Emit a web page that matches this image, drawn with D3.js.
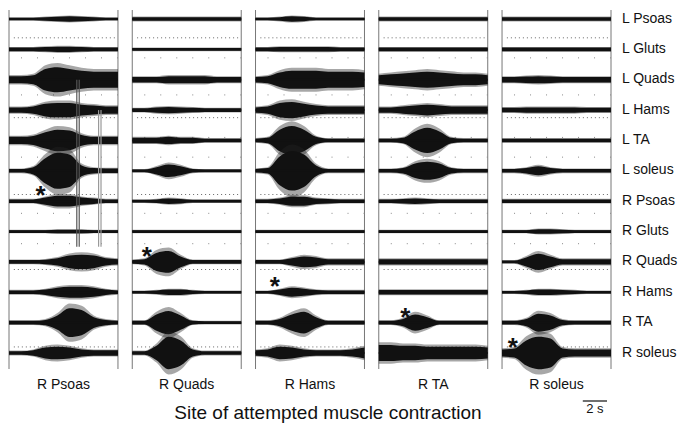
<!DOCTYPE html>
<html>
<head>
<meta charset="utf-8">
<script src="https://cdn.jsdelivr.net/npm/d3@7"></script>
<style>
  body { margin: 0; background: #fff; }
  text { font-family: "Liberation Sans", Arial, sans-serif; fill: #111; }
</style>
</head>
<body>
<div id="chart"></div>
<script>
// muscles recorded (rows, top to bottom)
const muscles = ['L Psoas', 'L Gluts', 'L Quads', 'L Hams', 'L TA', 'L soleus',
  'R Psoas', 'R Gluts', 'R Quads', 'R Hams', 'R TA', 'R soleus'];

// attempted contraction site (columns)
const sites = ['R Psoas', 'R Quads', 'R Hams', 'R TA', 'R soleus'];

// sample times of the EMG envelope (s)
const times = [0, 1, 2, 3, 4, 5, 6, 7, 8, 9];

// EMG envelope amplitude (arbitrary units), one row per muscle
const psoasTrial = [
  [1.5, 1.5, 1.5, 2, 2.5, 3, 2.5, 2, 1.5, 1.5],
  [2, 2, 2, 2.5, 3, 3, 2.5, 2, 2, 2],
  [4, 4, 5, 12, 14, 12, 10, 9, 9, 9],
  [3, 3, 4, 7, 8, 8, 6, 5, 4, 4],
  [4, 4, 5, 9, 12, 11, 6, 4, 4, 4],
  [2, 2, 4, 14, 20, 18, 6, 3, 2.5, 2.5],
  [2, 2, 2, 4, 6, 6, 4, 3, 2, 2],
  [1.5, 1.5, 1.5, 1.5, 2, 2, 2, 1.5, 1.5, 1.5],
  [2, 2, 2, 2.5, 4, 7, 8, 7, 4, 3],
  [2, 2, 2, 3, 5, 6, 6, 5, 3, 2],
  [2, 2, 2, 3, 8, 16, 14, 6, 3, 2],
  [2, 2, 3, 6, 7, 6, 4, 3, 3, 3]
];
const quadsTrial = [
  [2, 2, 2, 2, 2, 2, 2, 2, 2, 2],
  [1.5, 1.5, 1.5, 1.5, 1.5, 1.5, 1.5, 1.5, 1.5, 1.5],
  [3, 3, 3, 4, 4, 4, 4, 3, 3, 3],
  [2, 2, 3, 3.5, 3, 2.5, 2, 2, 2, 2],
  [3, 3, 3, 4, 3, 3, 2, 2, 2, 2],
  [1.5, 1.5, 4, 7, 5, 2, 1.5, 1.5, 1.5, 1.5],
  [1.5, 1.5, 2, 3, 2.5, 1.5, 1.5, 1.5, 1.5, 1.5],
  [1.5, 1.5, 1.5, 1.5, 1.5, 1.5, 1.5, 1.5, 1.5, 1.5],
  [2, 3, 10, 12, 6, 2, 2, 2, 2, 2],
  [1.5, 1.5, 2, 3, 3, 2, 1.5, 1.5, 1.5, 1.5],
  [2, 2, 9, 13, 8, 2, 1.5, 1.5, 1.5, 1.5],
  [2, 2, 8, 18, 14, 4, 2, 2, 2, 2]
];
const hamsTrial = [
  [1.5, 1.5, 2, 3, 2.5, 1.5, 1.5, 1.5, 1.5, 1.5],
  [2, 2, 2.5, 2.5, 2.5, 2.5, 2.5, 2, 2, 2],
  [3, 4, 8, 10, 10, 10, 9, 9, 9, 8],
  [3, 4, 8, 9, 7, 5, 4, 4, 4, 4],
  [2, 3, 12, 16, 12, 4, 2, 2, 2, 2],
  [2, 3, 16, 22, 18, 6, 2, 2, 2, 2],
  [2, 2, 3, 5, 5, 3, 2.5, 2, 2, 2],
  [1.5, 1.5, 1.5, 1.5, 1.5, 1.5, 1.5, 1.5, 1.5, 1.5],
  [2, 2, 2, 4, 6, 5, 3, 3, 3, 3],
  [1.5, 1.5, 3, 5, 4, 2.5, 2, 2, 2, 2],
  [2, 2, 4, 9, 12, 6, 2, 2, 2, 2],
  [3, 4, 7, 6, 4, 3, 3, 3, 4, 6]
];
const taTrial = [
  [2, 2, 2, 2, 2, 2, 2, 2, 2, 2],
  [2, 2, 2, 2, 2, 2, 2, 2, 2, 2],
  [5, 6, 7, 8, 9, 8, 7, 6, 6, 5],
  [3, 3, 4, 5, 6, 5, 4, 4, 4, 4],
  [2, 2, 3, 10, 14, 10, 3, 2, 2, 2],
  [2, 2, 3, 8, 10, 8, 3, 2, 2, 2],
  [2, 2, 2.5, 3, 2.5, 2, 2, 2, 2, 2],
  [1.5, 1.5, 1.5, 1.5, 1.5, 1.5, 1.5, 1.5, 1.5, 1.5],
  [3, 3, 3, 3, 3, 3, 3, 3, 3, 3],
  [2.5, 2.5, 2.5, 2.5, 2.5, 2.5, 2.5, 2.5, 2.5, 2.5],
  [2, 2, 4, 9, 6, 2, 2, 2, 2, 2],
  [9, 9, 8, 8, 7, 7, 7, 7, 7, 6]
];
const soleusTrial = [
  [2, 2, 2, 2, 2, 2, 2, 2, 2, 2],
  [2, 2, 2, 2, 2, 2, 2, 2, 2, 2],
  [3, 3, 3.5, 4, 3.5, 3, 3, 3, 3, 3],
  [2.5, 2.5, 3, 3, 3, 3, 3, 2.5, 2.5, 2.5],
  [2, 2, 2, 2, 2, 2, 2, 2, 2, 2],
  [2, 2, 3, 5, 3, 2, 2, 2, 2, 2],
  [2, 2, 2, 2, 2, 2, 2, 2, 2, 2],
  [1.5, 1.5, 1.5, 2.5, 2.5, 2, 1.5, 1.5, 1.5, 1.5],
  [1.5, 1.5, 5, 9, 6, 3, 3, 3, 3, 3],
  [1.5, 1.5, 2, 3, 3, 2.5, 2, 1.5, 1.5, 1.5],
  [2, 2, 4, 10, 8, 3, 2, 2, 2, 2],
  [4, 5, 14, 18, 16, 5, 4, 4, 4, 4]
];
const trials = [psoasTrial, quadsTrial, hamsTrial, taTrial, soleusTrial];

// asterisk = muscle the subject attempted to contract, with onset time (s)
const markMuscle = ['R Psoas', 'R Quads', 'R Hams', 'R TA', 'R soleus'];
const markTime = [2.6, 1.2, 1.6, 2.2, 0.9];

// movement artifacts in the first trial: time (s), from / to muscle row
const artifactTime = [5.6, 5.8, 7.4, 7.6];
const artifactFrom = [2, 2, 3, 3];
const artifactTo = [7.5, 7.5, 7.5, 7.5];

const width = 678;
const height = 425;

const svg = d3.select('#chart')
  .append('svg')
  .attr('width', width)
  .attr('height', height);

svg.append('rect').attr('width', width).attr('height', height).attr('fill', '#fff');

const col = d3.scaleBand().domain(sites).range([9, 611]).paddingInner(0.116).paddingOuter(0);
const row = d3.scalePoint().domain(muscles).range([19, 353]);
const amp = d3.scaleLinear().domain([0, 1]).range([0, 1]);
const panelTop = 10;
const panelBottom = 369;
const rowStep = row.step();

sites.forEach((site, i) => {
  const x = d3.scaleLinear().domain([0, 9]).range([col(site), col(site) + col.bandwidth()]);
  const g = svg.append('g');

  // panel borders
  g.selectAll('.border')
    .data([0, 9])
    .enter()
    .append('line')
    .attr('x1', d => x(d)).attr('x2', d => x(d))
    .attr('y1', panelTop).attr('y2', panelBottom)
    .attr('stroke', '#777')
    .attr('stroke-width', 1);

  // dotted reference rows between traces
  [0.62, 3.25, 5.78, 8.25, 10.8].forEach(r => {
    g.append('line')
      .attr('x1', x(0.4)).attr('x2', x(8.8))
      .attr('y1', row.range()[0] + r * rowStep).attr('y2', row.range()[0] + r * rowStep)
      .attr('stroke', '#666')
      .attr('stroke-width', 1)
      .attr('stroke-dasharray', '1,3');
  });
  [1.28, 2.5, 3.9, 4.55, 6.4, 7.4].forEach(r => {
    g.append('line')
      .attr('x1', x(0)).attr('x2', x(9))
      .attr('y1', row.range()[0] + r * rowStep).attr('y2', row.range()[0] + r * rowStep)
      .attr('stroke', '#888')
      .attr('stroke-width', 1)
      .attr('stroke-dasharray', '1,15')
      .attr('stroke-dashoffset', -12);
  });

  // EMG envelopes: soft outer halo + dense core
  const area = k => d3.area()
    .x((d, n) => x(times[n]))
    .y0(d => amp(d) * k)
    .y1(d => -amp(d) * k)
    .curve(d3.curveMonotoneX);

  muscles.forEach((m, j) => {
    const tr = g.append('g').attr('transform', 'translate(0,' + row(m) + ')');
    tr.append('path')
      .attr('d', area(1.2)(trials[i][j]))
      .attr('fill', '#222')
      .attr('opacity', 0.4);
    tr.append('path')
      .attr('d', area(0.9)(trials[i][j]))
      .attr('fill', '#111');
    tr.append('line')
      .attr('x1', x(0)).attr('x2', x(9))
      .attr('y1', 0).attr('y2', 0)
      .attr('stroke', '#111')
      .attr('stroke-width', 2);
  });

  if (i === 0) {
    artifactTime.forEach((t, k) => {
      g.append('line')
        .attr('x1', x(t)).attr('x2', x(t))
        .attr('y1', row.range()[0] + artifactFrom[k] * rowStep)
        .attr('y2', row.range()[0] + artifactTo[k] * rowStep)
        .attr('stroke', k < 2 ? '#555' : '#999')
        .attr('stroke-width', 1.2);
    });
  }

  // attempted-contraction marker
  g.append('text')
    .attr('x', x(markTime[i]))
    .attr('y', row(markMuscle[i]) + 3)
    .attr('text-anchor', 'middle')
    .style('font-size', '26px')
    .style('font-weight', 'bold')
    .text('*');

  // column label
  g.append('text')
    .attr('x', x(4.5))
    .attr('y', 389)
    .attr('text-anchor', 'middle')
    .style('font-size', '14px')
    .text(site);
});

// row labels
svg.selectAll('.rowlabel')
  .data(muscles)
  .enter()
  .append('text')
  .attr('x', 622)
  .attr('y', d => row(d) + 3.5)
  .style('font-size', '14px')
  .text(d => d);

svg.append('text')
  .attr('x', 328)
  .attr('y', 419)
  .attr('text-anchor', 'middle')
  .style('font-size', '19px')
  .text('Site of attempted muscle contraction');

// 2 s scale bar
const bar = d3.scaleLinear().domain([0, 9]).range([0, col.bandwidth()]);
svg.append('line')
  .attr('x1', 607 - bar(2)).attr('x2', 607)
  .attr('y1', 401).attr('y2', 401)
  .attr('stroke', '#111')
  .attr('stroke-width', 1.2);
svg.append('text')
  .attr('x', 607 - bar(1))
  .attr('y', 413)
  .attr('text-anchor', 'middle')
  .style('font-size', '13px')
  .text('2 s');
</script>
</body>
</html>
